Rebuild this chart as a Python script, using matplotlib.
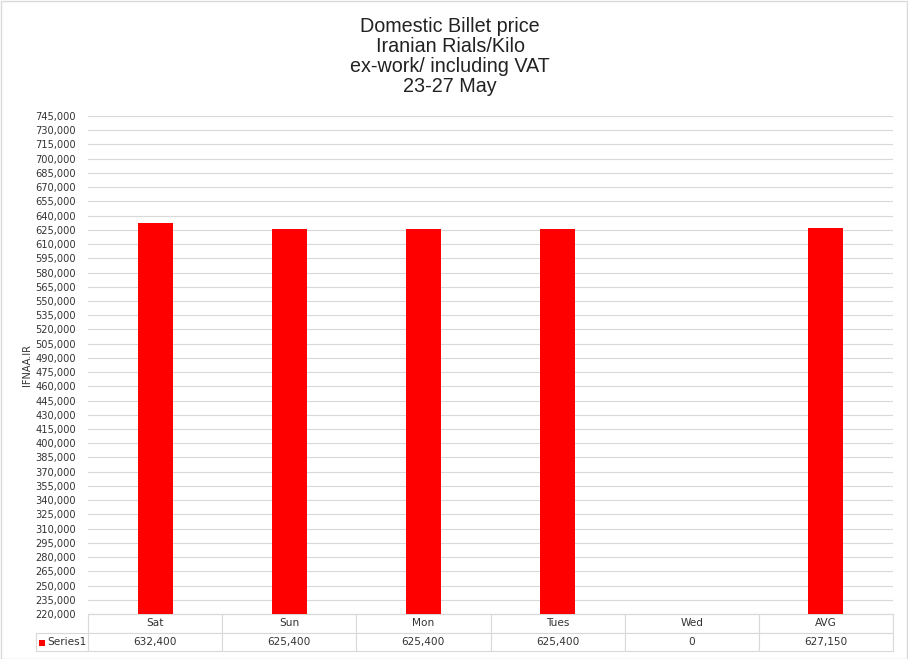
import matplotlib
matplotlib.use("Agg")
import matplotlib.pyplot as plt
from matplotlib.patches import Rectangle
from matplotlib.ticker import FuncFormatter
import numpy as np

days = ["Sat", "Sun", "Mon", "Tues", "Wed", "AVG"]
prices = [632400, 625400, 625400, 625400, 0, 627150]
series_name = "Series1"
title_lines = ["Domestic Billet price", "Iranian Rials/Kilo",
               "ex-work/ including VAT", "23-27 May"]
y_ticks = list(range(220000, 745001, 15000))

W, H = 908, 659
fig = plt.figure(figsize=(W / 100, H / 100), dpi=100)

# plot area in pixels
x0, x1, y_top, y_bot = 88, 893, 116, 614
ax = fig.add_axes([x0 / W, 1 - y_bot / H, (x1 - x0) / W, (y_bot - y_top) / H])

x = np.arange(len(days))
ax.bar(x, prices, width=0.26, color="#ff0000", zorder=3)
ax.set_xlim(-0.5, len(days) - 0.5)
ax.set_ylim(y_ticks[0], y_ticks[-1])
ax.set_yticks(y_ticks)
ax.yaxis.set_major_formatter(FuncFormatter(lambda v, p: f"{int(v):,}"))
ax.tick_params(axis="y", length=0, labelsize=7.1, labelcolor="#333333", pad=8.6)
ax.set_xticks([])
ax.grid(axis="y", color="#d9d9d9", linewidth=0.8, zorder=0)
for s in ["top", "right", "left"]:
    ax.spines[s].set_visible(False)
ax.spines["bottom"].set_color("#d9d9d9")
ax.set_ylabel("IFNAA.IR", fontsize=7, color="#333333")
ax.yaxis.set_label_coords((32 - x0) / (x1 - x0), 0.5)

# data table under the bars
lab_w = 52
col_w = (x1 - x0) / len(days)
total_w = lab_w + col_w * len(days)
row_h = 18.5
widths = [lab_w / total_w] + [col_w / total_w] * len(days)
cell_text = [[""] + days, [series_name] + [f"{v:,}" for v in prices]]
tbl = ax.table(cellText=cell_text, cellLoc="center", colWidths=widths,
               bbox=[-lab_w / (x1 - x0), -2 * row_h / (y_bot - y_top),
                     total_w / (x1 - x0), 2 * row_h / (y_bot - y_top)])
tbl.auto_set_font_size(False)
tbl.set_fontsize(7.6)
for (r, c), cell in tbl.get_celld().items():
    cell.set_edgecolor("#d9d9d9")
    cell.set_linewidth(0.8)
    cell.get_text().set_color("#333333")
    if r == 0 and c == 0:
        cell.visible_edges = ""
    if r == 1 and c == 0:
        cell.get_text().set_ha("left")
        cell._loc = "left"
        cell.PAD = 0.22

# legend key square in the Series1 cell
fig.patches.append(Rectangle((39 / W, 1 - 646 / H), 6 / W, 6 / H,
                             transform=fig.transFigure, facecolor="#ff0000",
                             edgecolor="none"))

# title, one line at a time (baselines in pixels)
for line, base in zip(title_lines, [31.7, 51.7, 71.7, 92]):
    fig.text(450 / W, 1 - base / H, line, ha="center", va="baseline",
             fontsize=14.2, family="Liberation Sans", color="#222222")

fig.patches.append(Rectangle((0.5 / W, 0.5 / H), 1 - 1.5 / W, 1 - 1.5 / H,
                             transform=fig.transFigure, fill=False,
                             edgecolor="#d9d9d9", linewidth=1))

fig.savefig("out.png", dpi=100)
